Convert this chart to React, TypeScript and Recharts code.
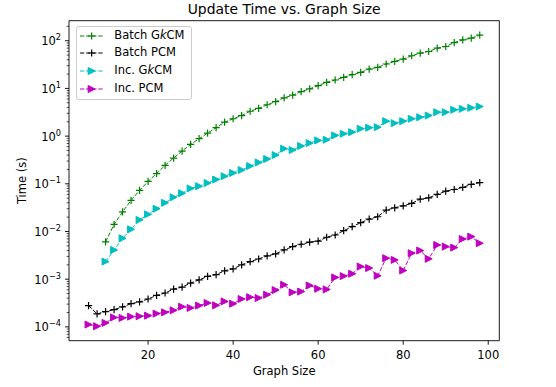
import { Legend, Line, LineChart, ReferenceArea, XAxis, YAxis } from "recharts";

const GRAPH_SIZE = [
  6, 8, 10, 12, 14, 16, 18, 20, 22, 24, 26, 28, 30, 32, 34, 36, 38, 40, 42, 44, 46, 48, 50, 52,
  54, 56, 58, 60, 62, 64, 66, 68, 70, 72, 74, 76, 78, 80, 82, 84, 86, 88, 90, 92, 94, 96, 98
];

const BATCH_GKCM = [
  null, null, 6.04e-3, 1.41e-2, 2.59e-2, 4.5e-2, 7.3e-2, 0.112, 0.164, 0.244, 0.347, 0.486, 0.671,
  0.883, 1.156, 1.5, 1.96, 2.31, 2.7, 3.32, 3.8, 4.55, 5.3, 6.35, 7.2, 8.6, 9.78, 11.4, 13.4, 15.0,
  17.1, 19.4, 21.7, 25.5, 27.6, 32.5, 36.8, 41.3, 48.4, 55, 59.4, 70, 75.6, 91.6, 104, 113, 131
];

const BATCH_PCM = [
  2.8e-4, 1.87e-4, 2.09e-4, 2.3e-4, 2.62e-4, 3.06e-4, 3.33e-4, 3.84e-4, 4.57e-4, 5.13e-4, 6.21e-4,
  6.84e-4, 8.3e-4, 9.7e-4, 1.14e-3, 1.25e-3, 1.5e-3, 1.65e-3, 2.0e-3, 2.34e-3, 2.65e-3, 3.08e-3,
  3.39e-3, 4.11e-3, 4.82e-3, 5.4e-3, 5.96e-3, 6.3e-3, 7.57e-3, 8.45e-3, 1.04e-2, 1.26e-2, 1.53e-2,
  1.82e-2, 2.04e-2, 2.81e-2, 3.14e-2, 3.46e-2, 3.88e-2, 4.77e-2, 5.08e-2, 5.98e-2, 7.0e-2, 7.6e-2,
  8.4e-2, 9.7e-2, 0.106
];

const INC_GKCM = [
  null, null, 2.34e-3, 4.1e-3, 7.2e-3, 1.11e-2, 1.75e-2, 2.29e-2, 3.0e-2, 3.99e-2, 5.2e-2, 6.35e-2,
  8.0e-2, 8.9e-2, 0.104, 0.123, 0.144, 0.169, 0.195, 0.235, 0.28, 0.33, 0.4, 0.546, 0.51, 0.62,
  0.714, 0.813, 0.84, 1.035, 1.12, 1.21, 1.43, 1.5, 1.54, 2.06, 1.87, 2.06, 2.31, 2.49, 2.7, 3.17,
  3.17, 3.56, 3.73, 3.92, 4.17
];

const INC_PCM = [
  1.12e-4, 1.03e-4, 1.21e-4, 1.58e-4, 1.54e-4, 1.64e-4, 1.67e-4, 1.72e-4, 1.9e-4, 2.02e-4, 2.22e-4,
  2.65e-4, 2.5e-4, 2.79e-4, 3.17e-4, 2.83e-4, 3.42e-4, 3.06e-4, 3.84e-4, 4.2e-4, 4.03e-4, 4.72e-4,
  5.9e-4, 7.64e-4, 5.3e-4, 5.5e-4, 7.38e-4, 6.31e-4, 6.1e-4, 1.09e-3, 1.16e-3, 1.3e-3, 1.84e-3,
  1.71e-3, 1.18e-3, 2.76e-3, 2.54e-3, 1.52e-3, 3.51e-3, 3.98e-3, 2.67e-3, 5.22e-3, 4.82e-3,
  4.59e-3, 6.97e-3, 7.8e-3, 5.68e-3
];

const X_TICKS = [20, 40, 60, 80, 100];
const Y_MAJOR_TICKS = [1e-4, 1e-3, 1e-2, 1e-1, 1, 10, 100];
const Y_MINOR_STEPS = [2, 3, 4, 5, 6, 7, 8, 9];

const W = 556;
const H = 387;
const FONT = "DejaVu Sans";
const PLOT_LEFT = 69;
const X_DOMAIN = [1.4, 102.6];
const Y_DOMAIN = [5.13e-5, 263];
const DASH = "4.3 1.8";

const Y_TICKS = [
  ...Y_MAJOR_TICKS,
  ...[1e-5, ...Y_MAJOR_TICKS].flatMap((d) => Y_MINOR_STEPS.map((k) => k * d))
]
  .filter((v) => v >= Y_DOMAIN[0] && v <= Y_DOMAIN[1])
  .sort((a, b) => a - b);

const rows = GRAPH_SIZE.map((x, i) => ({
  x,
  batchG: BATCH_GKCM[i],
  batchP: BATCH_PCM[i],
  incG: INC_GKCM[i],
  incP: INC_PCM[i]
}));

type Marker = "plus" | "tri";

const SERIES: Array<{ key: string; label: string; italicK: boolean; color: string; marker: Marker }> = [
  { key: "batchG", label: "Batch G", italicK: true, color: "#008000", marker: "plus" },
  { key: "batchP", label: "Batch PCM", italicK: false, color: "#000000", marker: "plus" },
  { key: "incG", label: "Inc. G", italicK: true, color: "#00bfbf", marker: "tri" },
  { key: "incP", label: "Inc. PCM", italicK: false, color: "#bf00bf", marker: "tri" }
];

function MarkerShape({ cx, cy, color, marker }: { cx: number; cy: number; color: string; marker: Marker }) {
  if (marker === "plus") {
    const s = 3.6;
    return (
      <path
        d={`M${cx - s},${cy}H${cx + s}M${cx},${cy - s}V${cy + s}`}
        stroke={color}
        strokeWidth={1.2}
        fill="none"
      />
    );
  }
  const s = 3.5;
  return (
    <path
      d={`M${cx + s},${cy}L${cx - s},${cy - s}L${cx - s},${cy + s}Z`}
      fill={color}
      stroke={color}
      strokeWidth={1}
      strokeLinejoin="miter"
    />
  );
}

function LogTick(props: any) {
  const { y, payload } = props;
  const v = payload.value as number;
  const lg = Math.log10(v);
  const e = Math.round(lg);
  if (Math.abs(lg - e) > 1e-6) {
    return <line x1={PLOT_LEFT - 2.3} x2={PLOT_LEFT} y1={y} y2={y} stroke="#000" strokeWidth={0.7} />;
  }
  const exp = e < 0 ? `\u2212${-e}` : `${e}`;
  return (
    <g>
      <line x1={PLOT_LEFT - 4} x2={PLOT_LEFT} y1={y} y2={y} stroke="#000" strokeWidth={0.9} />
      <text x={PLOT_LEFT - 8} y={y + 4.6} textAnchor="end" fontFamily={FONT} fontSize={11.5} fill="#000">
        10
        <tspan dy={-5} fontSize={8.2}>
          {exp}
        </tspan>
      </text>
    </g>
  );
}

function LegendBox() {
  return (
    <div
      style={{
        boxSizing: "border-box",
        width: 116.6,
        height: 74.3,
        border: "1px solid #cccccc",
        borderRadius: 3,
        background: "rgba(255,255,255,0.8)",
        paddingLeft: 3.3,
        fontFamily: FONT,
        fontSize: 11.5,
        color: "#000"
      }}
    >
      {SERIES.map((s) => (
        <div key={s.key} style={{ display: "flex", alignItems: "center", height: 17.8 }}>
          <svg width={23.3} height={10} style={{ display: "block" }}>
            <line x1={0} x2={23.3} y1={5} y2={5} stroke={s.color} strokeWidth={1} strokeDasharray={DASH} />
            <MarkerShape cx={11.65} cy={5} color={s.color} marker={s.marker} />
          </svg>
          <span style={{ marginLeft: 11, lineHeight: "17.8px", whiteSpace: "nowrap" }}>
            {s.label}
            {s.italicK ? (
              <>
                <span style={{ fontStyle: "italic" }}>k</span>CM
              </>
            ) : null}
          </span>
        </div>
      ))}
    </div>
  );
}

export default function App() {
  return (
    <div style={{ position: "absolute", left: 0, top: 0, width: W, height: H, background: "#fff" }}>
      <LineChart
        width={W}
        height={H}
        data={rows}
        margin={{ top: 20.7, right: 56.7, bottom: 0, left: 0 }}
      >
        <XAxis
          dataKey="x"
          type="number"
          domain={X_DOMAIN}
          allowDataOverflow
          ticks={X_TICKS}
          interval={0}
          height={46.3}
          axisLine={false}
          tickSize={4}
          tickMargin={6}
          tickLine={{ stroke: "#000", strokeWidth: 0.9 }}
          tick={{ fill: "#000", fontSize: 11.5, fontFamily: FONT }}
          label={() => (
            <text x={284.2} y={375} textAnchor="middle" fontFamily={FONT} fontSize={11.5} fill="#000">
              Graph Size
            </text>
          )}
        />
        <YAxis
          type="number"
          scale="log"
          domain={Y_DOMAIN}
          allowDataOverflow
          ticks={Y_TICKS}
          interval={0}
          width={69}
          axisLine={false}
          tickLine={false}
          tick={(p: any) => <LogTick {...p} />}
          label={() => (
            <text
              x={22}
              y={180.7}
              transform="rotate(-90 22 180.7)"
              textAnchor="middle"
              dominantBaseline="central"
              fontFamily={FONT}
              fontSize={11.5}
              fill="#000"
            >
              Time (s)
            </text>
          )}
        />
        <ReferenceArea
          x1={X_DOMAIN[0]}
          x2={X_DOMAIN[1]}
          y1={Y_DOMAIN[0]}
          y2={Y_DOMAIN[1]}
          fill="none"
          stroke="#000"
          strokeWidth={0.9}
          ifOverflow="visible"
        />
        {SERIES.map((s) => (
          <Line
            key={s.key}
            dataKey={s.key}
            type="linear"
            stroke={s.color}
            strokeWidth={1}
            strokeDasharray={DASH}
            isAnimationActive={false}
            activeDot={false}
            dot={(p: any) =>
              p.cx == null || p.cy == null || p.value == null ? (
                <g key={`${s.key}-${p.index}`} />
              ) : (
                <MarkerShape key={`${s.key}-${p.index}`} cx={p.cx} cy={p.cy} color={s.color} marker={s.marker} />
              )
            }
          />
        ))}
        <Legend
          layout="vertical"
          align="center"
          verticalAlign="middle"
          wrapperStyle={{ left: 75.7, top: 25.7, width: 116.6, height: 74.3 }}
          content={() => <LegendBox />}
        />
      </LineChart>
      <svg width={W} height={H} style={{ position: "absolute", left: 0, top: 0, pointerEvents: "none" }}>
        <text x={284.2} y={14} textAnchor="middle" fontFamily={FONT} fontSize={13.9} fill="#000">
          Update Time vs. Graph Size
        </text>
      </svg>
    </div>
  );
}
